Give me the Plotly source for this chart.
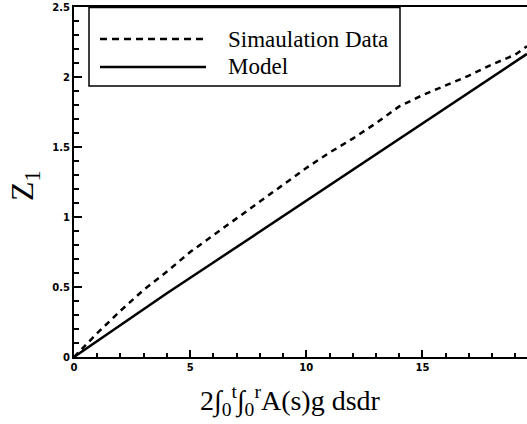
import plotly.graph_objects as go

# Data
sim_x = [0, 1, 2, 3, 4, 5, 6, 7, 8, 9, 10, 11, 12, 13, 14, 15, 16, 17, 18, 19, 19.5]
sim_y = [0, 0.17, 0.33, 0.48, 0.61, 0.75, 0.87, 0.99, 1.11, 1.23, 1.35, 1.46, 1.56, 1.67, 1.79,
         1.87, 1.94, 2.01, 2.09, 2.16, 2.22]
model_x = [0, 2, 4, 6, 8, 10, 12, 14, 16, 18, 19.5]
model_y = [0, 0.228, 0.455, 0.675, 0.895, 1.115, 1.335, 1.555, 1.775, 1.995, 2.165]
legend_names = ["Simaulation Data", "Model"]

W, H = 527, 424
L, R, T, B = 74, 0, 7, 67
pw, ph = W - L - R, H - T - B

def px(xp):
    return (xp - L) / pw

def py(yp):
    return (H - B - yp) / ph

fig = go.Figure()
fig.add_trace(go.Scatter(x=sim_x, y=sim_y, mode="lines", name=legend_names[0], showlegend=False,
                         line=dict(color="black", width=2.5, dash="6px,5px")))
fig.add_trace(go.Scatter(x=model_x, y=model_y, mode="lines", name=legend_names[1], showlegend=False,
                         line=dict(color="black", width=2.5)))

axis_font = dict(family="DejaVu Sans, Arial", size=10, color="black", weight="bold")
fig.update_xaxes(range=[0, 19.5], dtick=5, ticks="inside", ticklen=7, tickwidth=1.5,
                 tickcolor="black", showline=True, linecolor="black", linewidth=2,
                 mirror=True, showgrid=False, zeroline=False, tickfont=axis_font,
                 minor=dict(dtick=1, ticks="inside", ticklen=4, tickcolor="black", tickwidth=1.5))
fig.update_yaxes(range=[0, 2.5], dtick=0.5, ticks="inside", ticklen=8, tickwidth=1.5,
                 tickcolor="black", showline=True, linecolor="black", linewidth=2,
                 showgrid=False, zeroline=False, tickfont=axis_font,
                 minor=dict(dtick=0.1, ticks="inside", ticklen=5, tickcolor="black", tickwidth=1.5))

shapes = [
    dict(type="rect", xref="paper", yref="paper", x0=px(89), x1=px(400), y0=py(86), y1=py(7.5),
         line=dict(color="black", width=1.5), fillcolor="white", layer="above"),
    dict(type="line", xref="paper", yref="paper", x0=px(100), x1=px(207), y0=py(39), y1=py(39),
         line=dict(color="black", width=2.5, dash="7px,5px")),
    dict(type="line", xref="paper", yref="paper", x0=px(100), x1=px(206), y0=py(67), y1=py(67),
         line=dict(color="black", width=2.5)),
]
serif = "Liberation Serif, Times New Roman, serif"
annotations = [
    dict(text=legend_names[0], xref="paper", yref="paper", x=px(226), y=py(39), xanchor="left",
         yanchor="middle", showarrow=False, font=dict(family=serif, size=23, color="black")),
    dict(text=legend_names[1], xref="paper", yref="paper", x=px(226), y=py(67), xanchor="left",
         yanchor="middle", showarrow=False, font=dict(family=serif, size=23, color="black")),
    dict(text="2∫<sub>0</sub><sup>t</sup>∫<sub>0</sub><sup>r</sup>A(s)g dsdr", xref="paper",
         yref="paper", x=px(290), y=py(400), xanchor="center", yanchor="middle", showarrow=False,
         font=dict(family=serif, size=28, color="black")),
    dict(text="Z<sub>1</sub>", xref="paper", yref="paper", x=px(24), y=py(186), xanchor="center",
         yanchor="middle", showarrow=False, textangle=-90,
         font=dict(family=serif, size=32, color="black")),
]

fig.update_layout(width=W, height=H, margin=dict(l=L, r=R, t=T, b=B),
                  paper_bgcolor="white", plot_bgcolor="white", showlegend=False,
                  shapes=shapes, annotations=annotations)

fig.write_html("out.html")
